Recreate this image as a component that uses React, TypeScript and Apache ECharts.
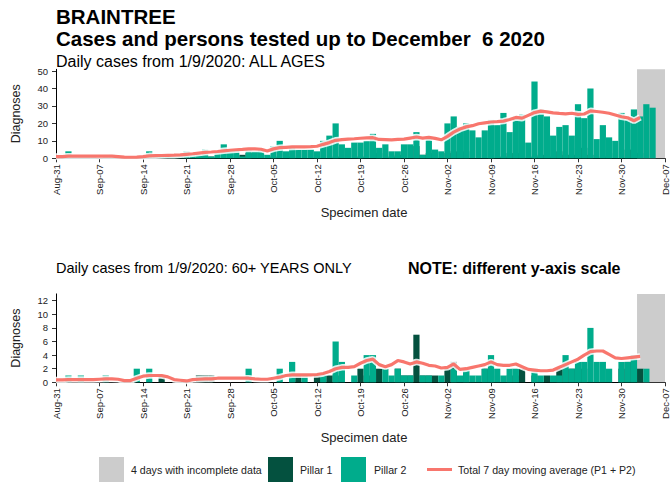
import React, { useEffect, useRef } from 'react';
import * as echarts from 'echarts';

const FONT = '"Liberation Sans", Arial, Helvetica, sans-serif';

// x positions: days since Aug-31 (index 0 = Aug-31 ... 97 = Dec-06)
const tickLabels = ['Aug-31', 'Sep-07', 'Sep-14', 'Sep-21', 'Sep-28', 'Oct-05', 'Oct-12', 'Oct-19', 'Oct-26', 'Nov-02', 'Nov-09', 'Nov-16', 'Nov-23', 'Nov-30', 'Dec-07'];

// ALL AGES
const pillar1All = [
  0, 0, 0, 0, 0, 0, 0,
  0, 0, 0, 0, 0, 0, 0,
  0, 0, 0, 0, 0, 0, 0,
  0, 0, 1, 1, 1, 0, 0,
  0, 0, 2, 3, 0, 0, 0,
  1, 0, 0, 1, 0, 0, 0,
  1, 0, 0, 1, 0, 0, 0,
  1, 0, 0, 3, 0, 1, 2,
  0, 0, 7, 2, 3, 1, 0,
  3, 4, 3, 4, 0, 0, 0,
  4, 0, 1, 3, 3, 1, 0,
  1, 2, 2, 1, 4, 2, 2,
  6, 6, 2, 0, 1, 3, 0,
  0, 5, 5, 3, 0, 0, 0,
];
const pillar2All = [
  0, 1, 4, 1, 1, 1, 1,
  0, 1, 2, 1, 0, 1, 1,
  1, 4, 2, 1, 2, 1, 2,
  4, 2, 2, 5, 1, 4, 8,
  4, 5, 1, 5, 4, 5, 2,
  7, 10, 4, 7, 5, 5, 5,
  4, 10, 13, 20, 8, 6, 9,
  9, 10, 14, 6, 8, 4, 4,
  8, 8, 15, 2, 11, 5, 4,
  20, 24, 18, 20, 16, 12, 16,
  22, 19, 26, 15, 24, 25, 9,
  44, 28, 24, 13, 18, 19, 13,
  31, 23, 40, 11, 19, 12, 10,
  26, 22, 28, 24, 31, 29, 0,
];
const avgAll = [
  1, 1, 1.2, 1.2, 1.2, 1.2, 1.3,
  1.3, 1.2, 1.2, 1, 0.7, 0.6, 0.7,
  1, 1.4, 1.5, 1.6, 1.7, 1.8, 2,
  2.3, 2.6, 3, 3.4, 3.6, 3.9, 4.3,
  4.6, 4.9, 5.1, 5.4, 5.4, 5.2, 4.2,
  5.4, 6.1, 6.3, 6.5, 6.6, 6.6, 6.7,
  6.9, 8, 9, 10.3, 10.7, 11, 11.2,
  11.5, 11.7, 11.8, 10.8, 10.7, 10.6, 10.8,
  11, 11.6, 12.2, 11.6, 12, 11.4, 10.6,
  12.6, 15, 16.8, 18, 18.7, 19.8, 20.3,
  20.8, 21, 21.3, 22.2, 23.4, 23, 24.6,
  26.2, 27, 26.6, 26, 25.7, 25.5, 25.8,
  25.2, 25.4, 27.2, 26.8, 26.4, 25.8, 24.8,
  23.8, 23.2, 21.5, 23.4,
];

// 60+ YEARS ONLY
const pillar1Old = [
  0, 0, 0, 0, 0, 0, 0,
  0, 0, 0, 0, 0, 0, 0,
  0, 0, 0, 1, 0, 0, 0,
  0, 0, 1, 1, 1, 0, 0,
  0, 0, 0, 0, 0, 0, 0,
  0, 0, 0, 1, 1, 0, 0,
  1, 1, 1, 1, 0, 0, 0,
  2, 1, 1, 2, 0, 0, 2,
  1, 1, 7, 1, 1, 1, 0,
  2, 3, 0, 2, 0, 0, 2,
  1, 0, 0, 1, 1, 2, 0,
  1, 0, 1, 0, 2, 2, 2,
  2, 2, 0, 0, 0, 0, 0,
  2, 3, 4, 2, 0, 0, 0,
];
const pillar2Old = [
  0, 0, 1, 0, 1, 0, 0,
  0, 1, 0, 0, 0, 0, 2,
  0, 2, 0, 0, 0, 0, 0,
  0, 0, 0, 0, 0, 0, 0,
  0, 0, 0, 2, 0, 0, 0,
  0, 2, 0, 3, 0, 1, 0,
  0, 1, 0, 6, 3, 0, 1,
  0, 4, 4, 0, 2, 1, 2,
  1, 1, 0, 1, 1, 0, 1,
  0, 2, 1, 2, 1, 1, 2,
  4, 2, 1, 2, 2, 0, 0,
  2, 1, 0, 1, 1, 4, 2,
  3, 3, 8, 3, 3, 2, 0,
  3, 3, 4, 0, 2, 0, 0,
];
const avgOld = [
  0.35, 0.35, 0.4, 0.4, 0.4, 0.4, 0.4,
  0.45, 0.5, 0.5, 0.45, 0.25, 0.25, 0.6,
  0.9, 1, 1, 1, 0.8, 0.4, 0.3,
  0.2, 0.4, 0.45, 0.5, 0.5, 0.6, 0.6,
  0.6, 0.6, 0.6, 0.6, 0.5, 0.45, 0.45,
  0.6, 0.75, 1, 1.1, 1.1, 1.1, 1.1,
  1.15, 1.3, 1.6, 2, 2.2, 2.2, 2.3,
  2.8, 3.2, 3.4, 2.6, 2.3, 2.6, 3.2,
  3, 2.7, 3, 2.8, 2.5, 2.4, 2.1,
  2.2, 2.7, 1.9, 2, 2.2, 2.4, 2.6,
  3, 2.6, 2.5, 2.5, 2.7, 2.3, 1.9,
  1.8, 1.7, 1.7, 1.8, 2.2, 2.6, 3,
  3.4, 4, 4.5, 4.6, 4.6, 4.1, 3.6,
  3.5, 3.6, 3.7, 3.8,
];

const incompleteStart = 93.5; // Dec-03 (left edge)
const incompleteEnd = 98;

const yTicksAll = [0, 10, 20, 30, 40, 50];
const yTicksOld = [0, 2, 4, 6, 8, 10, 12];

const C_P1 = '#04513F';
const C_P2 = '#00AC8C';
const C_GREY = '#CCCCCC';
const C_LINE = '#F8766D';

const xy = (arr: number[]) => arr.map((v, i) => [i, v]);

function xAxis(gridIndex: number) {
  return {
    type: 'value',
    gridIndex,
    min: 0,
    max: 98,
    interval: 7,
    axisLine: { show: true, onZero: false, lineStyle: { color: '#000', width: 1 } },
    axisTick: { show: true, length: 4, lineStyle: { color: '#333' } },
    axisLabel: {
      rotate: 90,
      margin: 6,
      fontSize: 9.5,
      color: '#222',
      fontFamily: FONT,
      formatter: (v: number) => tickLabels[Math.round(v / 7)] ?? '',
    },
    splitLine: { show: false },
  };
}

function yAxis(gridIndex: number, max: number, interval: number, ticks: number[]) {
  return {
    type: 'value',
    gridIndex,
    min: 0,
    max,
    interval,
    axisLine: { show: true, lineStyle: { color: '#000', width: 1 } },
    axisTick: { show: true, length: 4, customValues: ticks, lineStyle: { color: '#333' } },
    axisLabel: { customValues: ticks, fontSize: 9.5, margin: 8, color: '#222', fontFamily: FONT },
    splitLine: { show: false },
    name: 'Diagnoses',
    nameLocation: 'middle',
    nameGap: 34,
    nameTextStyle: { fontSize: 12.5, color: '#222', fontFamily: FONT },
  };
}

function seriesFor(idx: number, p1: number[], p2: number[], avg: number[]) {
  const stack = 'st' + idx;
  return [
    {
      type: 'line',
      xAxisIndex: idx,
      yAxisIndex: idx,
      data: [],
      z: 0,
      markArea: {
        silent: true,
        itemStyle: { color: C_GREY },
        data: [[{ xAxis: incompleteStart }, { xAxis: incompleteEnd }]],
      },
    },
    {
      type: 'bar',
      name: 'Pillar 1',
      xAxisIndex: idx,
      yAxisIndex: idx,
      stack,
      barWidth: '100%',
      z: 2,
      itemStyle: { color: C_P1 },
      data: xy(p1),
    },
    {
      type: 'bar',
      name: 'Pillar 2',
      xAxisIndex: idx,
      yAxisIndex: idx,
      stack,
      barWidth: '100%',
      z: 2,
      itemStyle: { color: C_P2 },
      data: xy(p2),
    },
    {
      type: 'line',
      xAxisIndex: idx,
      yAxisIndex: idx,
      symbol: 'none',
      z: 3,
      lineStyle: { color: '#ffffff', width: 6.5, opacity: 0.85 },
      data: xy(avg),
    },
    {
      type: 'line',
      name: 'Total 7 day moving average (P1 + P2)',
      xAxisIndex: idx,
      yAxisIndex: idx,
      symbol: 'none',
      z: 4,
      lineStyle: { color: C_LINE, width: 3.2 },
      data: xy(avg),
    },
  ];
}

const legendY = 457;
const legendText = (x: number, text: string) => ({
  type: 'text',
  x,
  y: legendY + 12.5,
  style: { text, fontSize: 10.6, fill: '#222', fontFamily: FONT, verticalAlign: 'middle', align: 'left' },
});

const option = {
  animation: false,
  backgroundColor: '#ffffff',
  grid: [
    { left: 56, top: 69.3, width: 616, height: 89 },
    { left: 56, top: 293.9, width: 616, height: 88.4 },
  ],
  xAxis: [xAxis(0), xAxis(1)],
  yAxis: [yAxis(0, 51, 10, yTicksAll), yAxis(1, 13, 2, yTicksOld)],
  series: [...seriesFor(0, pillar1All, pillar2All, avgAll), ...seriesFor(1, pillar1Old, pillar2Old, avgOld)],
  graphic: [
    { type: 'text', x: 56, y: 16.5, style: { text: 'BRAINTREE', fontSize: 20.5, fontWeight: 'bold', fill: '#000', fontFamily: FONT, verticalAlign: 'middle' } },
    { type: 'text', x: 56, y: 38.5, style: { text: 'Cases and persons tested up to December  6 2020', fontSize: 20.5, fontWeight: 'bold', fill: '#000', fontFamily: FONT, verticalAlign: 'middle' } },
    { type: 'text', x: 56, y: 61, style: { text: 'Daily cases from 1/9/2020: ALL AGES', fontSize: 16, fill: '#000', fontFamily: FONT, verticalAlign: 'middle' } },
    { type: 'text', x: 364, y: 212, style: { text: 'Specimen date', fontSize: 13, fill: '#222', fontFamily: FONT, verticalAlign: 'middle', align: 'center' } },
    { type: 'text', x: 56, y: 268, style: { text: 'Daily cases from 1/9/2020: 60+ YEARS ONLY', fontSize: 14.5, fill: '#000', fontFamily: FONT, verticalAlign: 'middle' } },
    { type: 'text', x: 408, y: 268, style: { text: 'NOTE: different y-axis scale', fontSize: 16, fontWeight: 'bold', fill: '#000', fontFamily: FONT, verticalAlign: 'middle' } },
    { type: 'text', x: 364, y: 437, style: { text: 'Specimen date', fontSize: 13, fill: '#222', fontFamily: FONT, verticalAlign: 'middle', align: 'center' } },
    { type: 'rect', shape: { x: 99, y: legendY, width: 25, height: 25 }, style: { fill: C_GREY } },
    legendText(131, '4 days with incomplete data'),
    { type: 'rect', shape: { x: 268, y: legendY, width: 25, height: 25 }, style: { fill: C_P1 } },
    legendText(300, 'Pillar 1'),
    { type: 'rect', shape: { x: 341, y: legendY, width: 25, height: 25 }, style: { fill: C_P2 } },
    legendText(374, 'Pillar 2'),
    { type: 'line', shape: { x1: 427, y1: legendY + 12.5, x2: 452, y2: legendY + 12.5 }, style: { stroke: C_LINE, lineWidth: 3 } },
    legendText(458, 'Total 7 day moving average (P1 + P2)'),
  ],
};

export default function App() {
  const ref = useRef<HTMLDivElement>(null);
  useEffect(() => {
    const chart = echarts.init(ref.current as HTMLDivElement, null, { renderer: 'svg' });
    chart.setOption(option as any);
    return () => chart.dispose();
  }, []);
  return (
    <div
      ref={ref}
      style={{ position: 'absolute', left: 0, top: 0, width: 670, height: 485, background: '#fff' }}
    />
  );
}
